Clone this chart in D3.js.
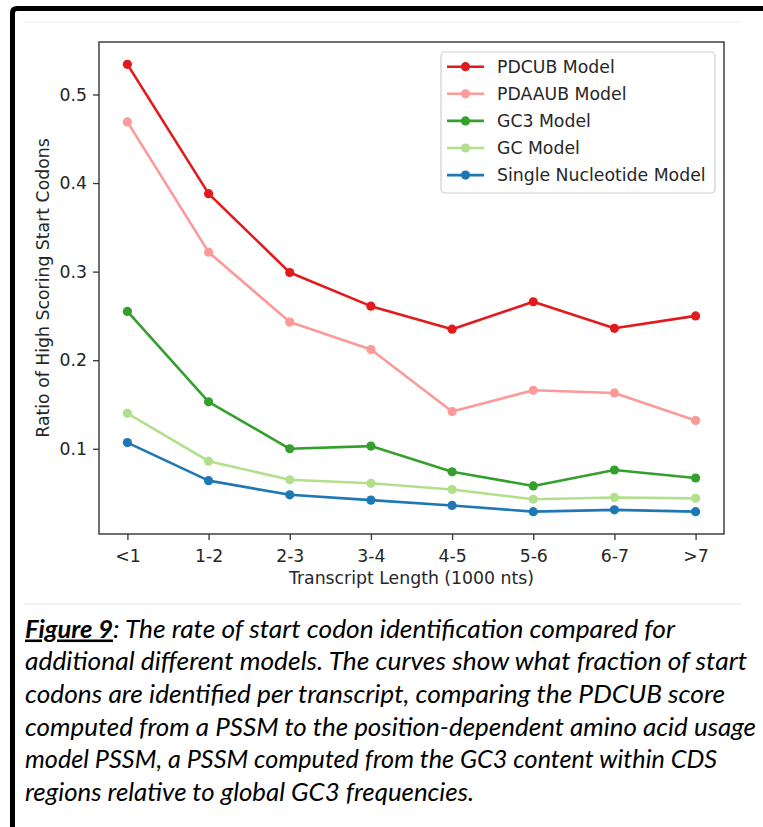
<!DOCTYPE html>
<html>
<head>
<meta charset="utf-8">
<script src="https://cdn.jsdelivr.net/npm/d3@7"></script>
<style>
  html, body { margin: 0; padding: 0; background: #fff; }
  svg { display: block; }
</style>
</head>
<body>
<svg id="fig" width="763" height="827"></svg>
<script>
// ── Data ──────────────────────────────────────────────────────────────────
const categories = ['<1', '1-2', '2-3', '3-4', '4-5', '5-6', '6-7', '>7'];
const pdcub  = [0.534, 0.388, 0.299, 0.261, 0.235, 0.266, 0.236, 0.250];
const pdaaub = [0.469, 0.322, 0.243, 0.212, 0.142, 0.166, 0.163, 0.132];
const gc3    = [0.255, 0.153, 0.100, 0.103, 0.074, 0.058, 0.076, 0.067];
const gc     = [0.140, 0.086, 0.065, 0.061, 0.054, 0.043, 0.045, 0.044];
const single = [0.107, 0.064, 0.048, 0.042, 0.036, 0.029, 0.031, 0.029];
const yTicks = [0.1, 0.2, 0.3, 0.4, 0.5];

const seriesNames = ['PDCUB Model', 'PDAAUB Model', 'GC3 Model', 'GC Model', 'Single Nucleotide Model'];
const seriesValues = [pdcub, pdaaub, gc3, gc, single];
const seriesColors = ['#e31a1c', '#fb9a99', '#33a02c', '#b2df8a', '#1f78b4'];

const captionLines = [
  'additional different models. The curves show what fraction of start',
  'codons are identified per transcript, comparing the PDCUB score',
  'computed from a PSSM to the position-dependent amino acid usage',
  'model PSSM, a PSSM computed from the GC3 content within CDS',
  'regions relative to global GC3 frequencies.'
];
const captionWidths = [722, 700, 731, 692, 449];

// ── Layout ────────────────────────────────────────────────────────────────
const svg = d3.select('#fig');
const plot = { left: 99, right: 724, top: 42, bottom: 534 };
const FONT = '"DejaVu Sans", sans-serif';
const FS = 17.3;

// outer figure frame (cropped box)
svg.append('path')
  .attr('d', 'M12.5,840 L12.5,13 Q12.5,8.5 17,8.5 L770,8.5')
  .attr('fill', 'none').attr('stroke', '#000').attr('stroke-width', 5);
svg.append('line').attr('x1', 24).attr('x2', 741).attr('y1', 22).attr('y2', 22)
  .attr('stroke', '#eeeeee').attr('stroke-width', 1);
svg.append('line').attr('x1', 24).attr('x2', 741).attr('y1', 604).attr('y2', 604)
  .attr('stroke', '#e6e6e6').attr('stroke-width', 1);

// ── Scales ────────────────────────────────────────────────────────────────
const x = d3.scalePoint().domain(categories).range([plot.left, plot.right]).padding(0.35);
const allVals = seriesValues.flat();
const [vmin, vmax] = d3.extent(allVals);
const m = (vmax - vmin) * 0.05;
const y = d3.scaleLinear().domain([vmin - m, vmax + m]).range([plot.bottom, plot.top]);

// ── Axes ──────────────────────────────────────────────────────────────────
const gx = svg.append('g').attr('transform', `translate(0,${plot.bottom})`)
  .call(d3.axisBottom(x).tickSize(6).tickPadding(10));
const gy = svg.append('g').attr('transform', `translate(${plot.left},0)`)
  .call(d3.axisLeft(y).tickValues(yTicks).tickFormat(d3.format('.1f')).tickSize(6).tickPadding(6));
[gx, gy].forEach(g => {
  g.select('.domain').remove();
  g.selectAll('line').attr('stroke', '#333').attr('stroke-width', 1.3);
  g.selectAll('text').attr('font-family', FONT).attr('font-size', FS).attr('fill', '#262626');
});

svg.append('text')
  .attr('x', (plot.left + plot.right) / 2).attr('y', 584)
  .attr('text-anchor', 'middle').attr('font-family', FONT).attr('font-size', FS).attr('fill', '#262626')
  .text('Transcript Length (1000 nts)');
svg.append('text')
  .attr('transform', `translate(49,${(plot.top + plot.bottom) / 2}) rotate(-90)`)
  .attr('text-anchor', 'middle').attr('font-family', FONT).attr('font-size', FS).attr('fill', '#262626')
  .text('Ratio of High Scoring Start Codons');

// ── Lines ─────────────────────────────────────────────────────────────────
const line = d3.line().x((d, i) => x(categories[i])).y(d => y(d));
seriesValues.forEach((vals, s) => {
  const g = svg.append('g');
  g.append('path').attr('d', line(vals)).attr('fill', 'none')
    .attr('stroke', seriesColors[s]).attr('stroke-width', 2.6).attr('stroke-linejoin', 'round');
  g.selectAll('circle').data(vals).join('circle')
    .attr('cx', (d, i) => x(categories[i])).attr('cy', d => y(d)).attr('r', 4.6)
    .attr('fill', seriesColors[s]);
});

// frame
svg.append('rect')
  .attr('x', plot.left).attr('y', plot.top)
  .attr('width', plot.right - plot.left).attr('height', plot.bottom - plot.top)
  .attr('fill', 'none').attr('stroke', '#333').attr('stroke-width', 1.4);

// ── Legend ────────────────────────────────────────────────────────────────
const legend = svg.append('g');
legend.append('rect')
  .attr('x', 441).attr('y', 52).attr('width', 274).attr('height', 141).attr('rx', 4)
  .attr('fill', 'rgba(255,255,255,0.8)').attr('stroke', '#d0d0d0').attr('stroke-width', 1.2);
seriesNames.forEach((name, i) => {
  const cy = 66.7 + i * 27.1;
  legend.append('line').attr('x1', 447).attr('x2', 484).attr('y1', cy).attr('y2', cy)
    .attr('stroke', seriesColors[i]).attr('stroke-width', 2.6);
  legend.append('circle').attr('cx', 465.5).attr('cy', cy).attr('r', 4.6).attr('fill', seriesColors[i]);
  legend.append('text').attr('x', 497).attr('y', cy).attr('dy', '0.36em')
    .attr('font-family', FONT).attr('font-size', FS).attr('fill', '#262626').text(name);
});

// ── Caption ───────────────────────────────────────────────────────────────
const CAP = 'Lato, "Open Sans", sans-serif';
const base0 = 637.5, lh = 32.7;
svg.append('text')
  .attr('x', 25).attr('y', base0)
  .attr('font-family', CAP).attr('font-size', 25.5).attr('font-style', 'italic').attr('font-weight', 'bold')
  .attr('text-decoration', 'underline').attr('fill', '#000')
  .attr('textLength', 88).attr('lengthAdjust', 'spacingAndGlyphs')
  .text('Figure 9');
svg.append('text')
  .attr('x', 113).attr('y', base0)
  .attr('font-family', CAP).attr('font-size', 25.5).attr('font-style', 'italic').attr('fill', '#000')
  .attr('textLength', 562).attr('lengthAdjust', 'spacingAndGlyphs')
  .text(': The rate of start codon identification compared for');
captionLines.forEach((t, i) => {
  svg.append('text')
    .attr('x', 25).attr('y', base0 + (i + 1) * lh)
    .attr('font-family', CAP).attr('font-size', 25.5).attr('font-style', 'italic').attr('fill', '#000')
    .attr('textLength', captionWidths[i]).attr('lengthAdjust', 'spacingAndGlyphs')
    .text(t);
});
</script>
</body>
</html>
